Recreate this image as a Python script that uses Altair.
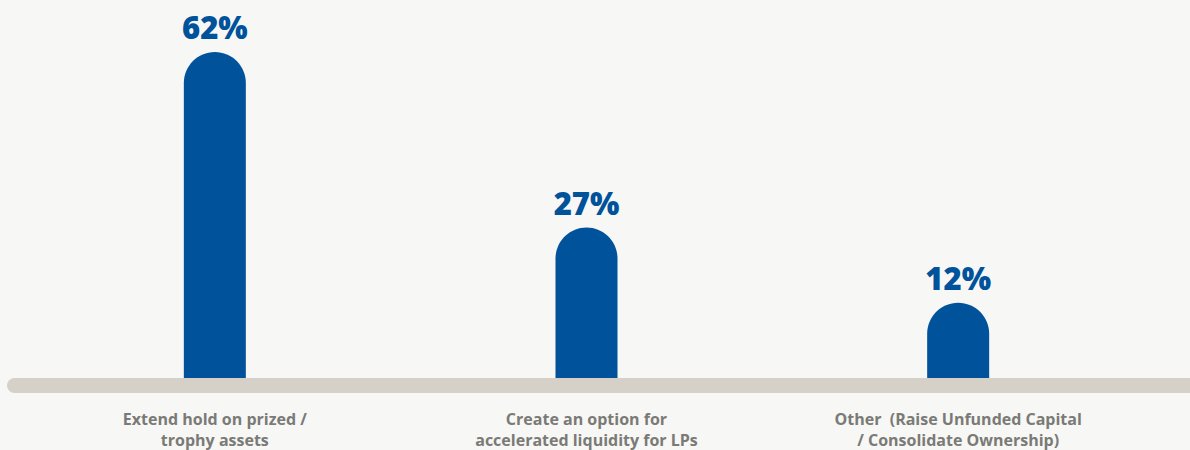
import altair as alt
import pandas as pd

categories = [
    "Extend hold on prized /\ntrophy assets",
    "Create an option for\naccelerated liquidity for LPs",
    "Other\u00a0 (Raise Unfunded Capital\n/ Consolidate Ownership)",
]
keys = ["A", "B", "C"]
values = [62, 27, 12]
value_labels = ["62%", "27%", "12%"]

df = pd.DataFrame({"key": keys, "category": categories, "value": values, "label": value_labels})

BLUE = "#00529b"
x = alt.X("key:N", sort=None, axis=None, scale=alt.Scale(range=[29, 1144], paddingInner=0, paddingOuter=0))
yscale = alt.Scale(domain=[-3, 62], range=[378, 52], zero=False, nice=False)

base = alt.Chart(df)

baseline = base.mark_rule(color="#d5d1c9", strokeWidth=15, strokeCap="round").encode(
    x=alt.value(14.5), x2=alt.value(1400), y=alt.value(385.5)
).transform_filter("datum.key == 'A'")

bars = base.mark_bar(size=62, color=BLUE, cornerRadiusTopLeft=31, cornerRadiusTopRight=31).encode(
    x=x,
    y=alt.Y("value:Q", scale=yscale, axis=None),
    y2=alt.datum(-3),
)

pct = base.mark_text(font="Open Sans", fontWeight=800, fontSize=31, color=BLUE, baseline="alphabetic", dy=-13).encode(
    x=x,
    y=alt.Y("value:Q", scale=yscale, axis=None),
    text="label:N",
)

cats = base.mark_text(font="Open Sans", fontWeight="bold", fontSize=16, color="#7a7a76",
                      baseline="alphabetic", lineBreak="\n", lineHeight=21).encode(
    x=x,
    y=alt.value(425),
    text="category:N",
)

chart = alt.layer(bars, baseline, pct, cats).properties(
    width=1190, height=450, background="#f7f7f5", padding=0,
    autosize=alt.AutoSizeParams(type="none"),
).configure_view(stroke=None)

chart.save("out.html", embed_options={"renderer": "svg", "actions": False})
